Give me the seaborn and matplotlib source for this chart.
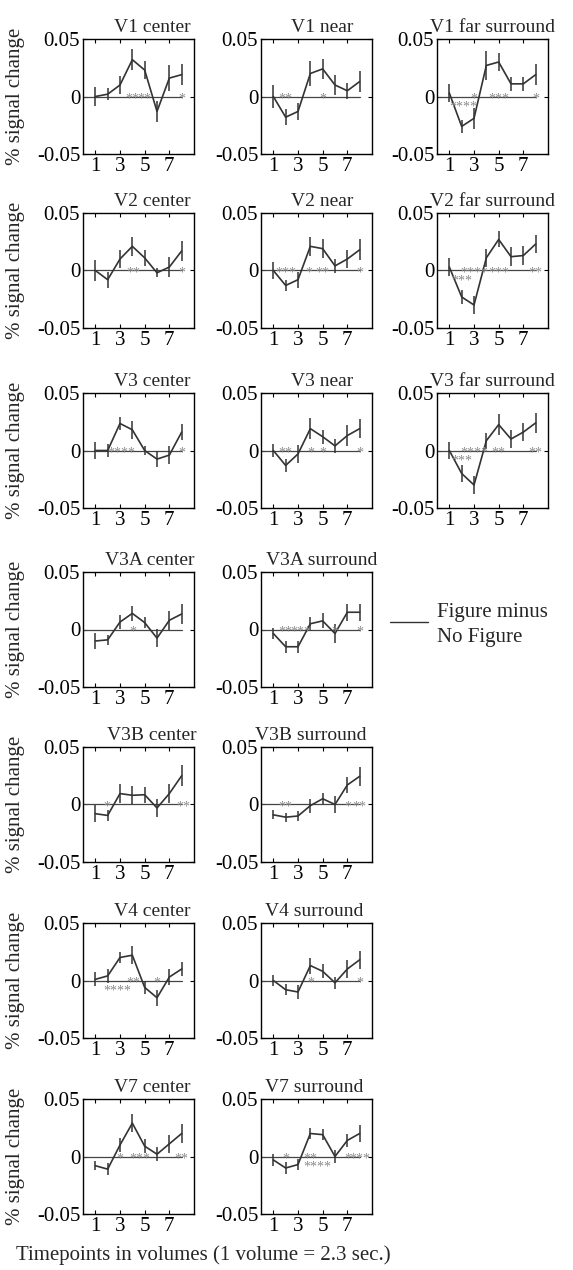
import matplotlib
matplotlib.use("Agg")
import matplotlib.pyplot as plt
import seaborn as sns

# ---- data -------------------------------------------------------------
timepoints = [1, 2, 3, 4, 5, 6, 7, 8]
x_ticks = [1, 3, 5, 7]
y_ticks = [-0.05, 0, 0.05]
y_tick_labels = ["-0.05", "0", "0.05"]

v1_center = [0.000, 0.002, 0.010, 0.032, 0.023, -0.013, 0.016, 0.019]
v1_center_err = [0.008, 0.005, 0.008, 0.009, 0.008, 0.009, 0.011, 0.009]
v1_center_stars = [(4, "**", 0), (5, "**", 0), (8, "*", 0)]

v1_near = [0.000, -0.018, -0.013, 0.020, 0.024, 0.010, 0.005, 0.013]
v1_near_err = [0.010, 0.007, 0.007, 0.011, 0.009, 0.009, 0.007, 0.009]
v1_near_stars = [(2, "**", 0), (5, "*", 0)]

v1_far = [0.003, -0.026, -0.019, 0.027, 0.030, 0.011, 0.011, 0.019]
v1_far_err = [0.008, 0.006, 0.009, 0.013, 0.008, 0.006, 0.006, 0.009]
v1_far_stars = [(2.1, "****", 1), (3, "*", 0), (5, "***", 0), (8, "*", 0)]

v2_center = [0.000, -0.008, 0.010, 0.021, 0.011, -0.002, 0.003, 0.017]
v2_center_err = [0.009, 0.007, 0.008, 0.008, 0.007, 0.004, 0.009, 0.009]
v2_center_stars = [(4.1, "**", 0), (8, "*", 0)]

v2_near = [0.000, -0.013, -0.008, 0.021, 0.019, 0.004, 0.010, 0.018]
v2_near_err = [0.007, 0.005, 0.007, 0.008, 0.008, 0.006, 0.008, 0.009]
v2_near_stars = [(2, "***", 0), (3.9, "*", 0), (5, "**", 0), (8, "*", 0)]

v2_far = [0.003, -0.023, -0.030, 0.011, 0.027, 0.012, 0.013, 0.023]
v2_far_err = [0.008, 0.006, 0.0075, 0.008, 0.007, 0.008, 0.008, 0.008]
v2_far_stars = [(2, "***", 1), (3, "****", 0), (5.05, "***", 0), (7.95, "**", 0)]

v3_center = [0.000, 0.000, 0.0235, 0.018, 0.000, -0.0075, -0.004, 0.016]
v3_center_err = [0.007, 0.006, 0.006, 0.008, 0.004, 0.007, 0.008, 0.007]
v3_center_stars = [(3.1, "****", 0), (8, "*", 0)]

v3_near = [0.000, -0.013, -0.003, 0.019, 0.012, 0.004, 0.013, 0.019]
v3_near_err = [0.006, 0.006, 0.008, 0.009, 0.006, 0.006, 0.009, 0.008]
v3_near_stars = [(2, "**", 0), (4, "*", 0), (5, "*", 0), (8, "*", 0)]

v3_far = [0.000, -0.020, -0.030, 0.0085, 0.0225, 0.010, 0.016, 0.024]
v3_far_err = [0.007, 0.007, 0.008, 0.007, 0.009, 0.008, 0.008, 0.009]
v3_far_stars = [(2, "***", 1), (3, "****", 0), (5, "**", 0), (8, "**", 0)]

v3a_center = [-0.010, -0.009, 0.0065, 0.014, 0.006, -0.0075, 0.008, 0.0135]
v3a_center_err = [0.007, 0.0045, 0.006, 0.0065, 0.005, 0.008, 0.008, 0.009]
v3a_center_stars = [(4, "*", 0)]

v3a_surround = [-0.0035, -0.015, -0.015, 0.005, 0.0075, -0.0035, 0.015, 0.015]
v3a_surround_err = [0.005, 0.005, 0.005, 0.006, 0.0065, 0.008, 0.0075, 0.0075]
v3a_surround_stars = [(2, "**", 0), (3.2, "***", 0), (6, "*", 0), (8, "*", 0)]

v3b_center = [-0.008, -0.0095, 0.0095, 0.008, 0.0085, -0.003, 0.0095, 0.025]
v3b_center_err = [0.0075, 0.0045, 0.008, 0.008, 0.007, 0.008, 0.0085, 0.009]
v3b_center_stars = [(1.9, "*", 0), (8.1, "**", 0)]

v3b_surround = [-0.009, -0.011, -0.010, -0.001, 0.005, 0.000, 0.017, 0.0245]
v3b_surround_err = [0.004, 0.004, 0.004, 0.006, 0.005, 0.0075, 0.007, 0.008]
v3b_surround_stars = [(2, "**", 0), (7, "*", 0), (8, "**", 0)]

v4_center = [0.001, 0.004, 0.020, 0.022, -0.006, -0.015, 0.003, 0.010]
v4_center_err = [0.006, 0.006, 0.005, 0.008, 0.006, 0.007, 0.007, 0.006]
v4_center_stars = [(2.8, "****", 1), (4.1, "**", 0), (6, "*", 0)]

v4_surround = [0.000, -0.008, -0.010, 0.013, 0.008, -0.002, 0.010, 0.018]
v4_surround_err = [0.005, 0.005, 0.006, 0.007, 0.006, 0.005, 0.008, 0.008]
v4_surround_stars = [(4, "*", 0), (8, "*", 0)]

v7_center = [-0.008, -0.011, 0.010, 0.029, 0.009, 0.002, 0.011, 0.020]
v7_center_err = [0.004, 0.005, 0.006, 0.008, 0.006, 0.006, 0.008, 0.008]
v7_center_stars = [(3, "*", 0), (4.6, "***", 0), (8, "**", 0)]

v7_surround = [-0.003, -0.010, -0.007, 0.020, 0.019, 0.000, 0.014, 0.020]
v7_surround_err = [0.005, 0.005, 0.005, 0.005, 0.005, 0.006, 0.006, 0.007]
v7_surround_stars = [(2, "*", 0), (4, "**", 0), (4.6, "****", 1), (7, "*", 0), (8, "***", 0)]

titles = [
    "V1 center", "V1 near", "V1 far surround",
    "V2 center", "V2 near", "V2 far surround",
    "V3 center", "V3 near", "V3 far surround",
    "V3A center", "V3A surround",
    "V3B center", "V3B surround",
    "V4 center", "V4 surround",
    "V7 center", "V7 surround",
]
means = [v1_center, v1_near, v1_far, v2_center, v2_near, v2_far,
         v3_center, v3_near, v3_far, v3a_center, v3a_surround,
         v3b_center, v3b_surround, v4_center, v4_surround,
         v7_center, v7_surround]
errors = [v1_center_err, v1_near_err, v1_far_err, v2_center_err, v2_near_err,
          v2_far_err, v3_center_err, v3_near_err, v3_far_err,
          v3a_center_err, v3a_surround_err, v3b_center_err, v3b_surround_err,
          v4_center_err, v4_surround_err, v7_center_err, v7_surround_err]
stars = [v1_center_stars, v1_near_stars, v1_far_stars, v2_center_stars,
         v2_near_stars, v2_far_stars, v3_center_stars, v3_near_stars,
         v3_far_stars, v3a_center_stars, v3a_surround_stars,
         v3b_center_stars, v3b_surround_stars, v4_center_stars,
         v4_surround_stars, v7_center_stars, v7_surround_stars]

# ---- layout (pixels) --------------------------------------------------
W, H = 573, 1270
grid = [(0, 0), (0, 1), (0, 2), (1, 0), (1, 1), (1, 2), (2, 0), (2, 1),
        (2, 2), (3, 0), (3, 1), (4, 0), (4, 1), (5, 0), (5, 1), (6, 0), (6, 1)]
col_left = [83, 261, 437]
row_top = [39, 213, 393, 572, 747, 923, 1099]
ax_w, ax_h = 111, 115
title_x = [0.62, 0.55, 0.50, 0.62, 0.55, 0.50, 0.62, 0.55, 0.50,
           0.60, 0.55, 0.62, 0.45, 0.62, 0.48, 0.62, 0.48]

sns.set_theme(style="ticks")
plt.rcParams["font.family"] = ["Liberation Serif", "DejaVu Serif"]
plt.rcParams["font.size"] = 15

LINE = "#333333"
STAR = "#8a8a8a"

fig = plt.figure(figsize=(W / 100, H / 100), dpi=100)
fig.patch.set_facecolor("white")

for i, (title, m, e, st) in enumerate(zip(titles, means, errors, stars)):
    r, c = grid[i]
    left = col_left[c] / W
    bottom = 1 - (row_top[r] + ax_h) / H
    ax = fig.add_axes([left, bottom, ax_w / W, ax_h / H])
    ax.set_facecolor("white")

    ax.plot([0, 8], [0, 0], color="#444444", lw=0.9, zorder=1)
    lo = [mv - ev for mv, ev in zip(m, e)]
    hi = [mv + ev for mv, ev in zip(m, e)]
    ax.vlines(timepoints, lo, hi, color=LINE, lw=1.1, zorder=2)
    sns.lineplot(x=timepoints, y=m, ax=ax, color=LINE, lw=1.2, zorder=3)

    for sx, s, level in st:
        sy = 0.0 if level == 0 else -0.0075
        ax.text(sx, sy - 0.002, s, ha="center", va="center", fontsize=10,
                color=STAR, zorder=4)

    ax.set_xlim(0, 9)
    ax.set_ylim(-0.05, 0.05)
    ax.set_xticks(x_ticks)
    ax.set_xticklabels([str(t) for t in x_ticks])
    ax.set_yticks(y_ticks)
    ax.set_yticklabels(y_tick_labels)
    ax.tick_params(direction="in", length=3, width=0.8, top=True, right=True,
                   labelsize=15, pad=2, colors="black")
    for sp in ax.spines.values():
        sp.set_visible(True)
        sp.set_color("black")
        sp.set_linewidth(1.0)
    ax.set_title(title, x=title_x[i], fontsize=14, pad=5)
    if c == 0:
        ax.set_ylabel("% signal change", fontsize=15)
        ax.yaxis.set_label_coords(-0.52, 0.5)

# legend beside the V3A row
fig.add_artist(plt.Line2D([390 / W, 428 / W], [1 - 622 / H, 1 - 622 / H],
                          color=LINE, lw=1.0))
fig.text(437 / W, 1 - 612 / H, "Figure minus", fontsize=15, va="center",
         ha="left")
fig.text(437 / W, 1 - 638 / H, "No Figure", fontsize=15, va="center",
         ha="left")

fig.text(203 / W, 1 - 1255 / H, "Timepoints in volumes (1 volume = 2.3 sec.)",
         fontsize=15, ha="center", va="center")

fig.savefig("out.png", dpi=100, facecolor="white")
